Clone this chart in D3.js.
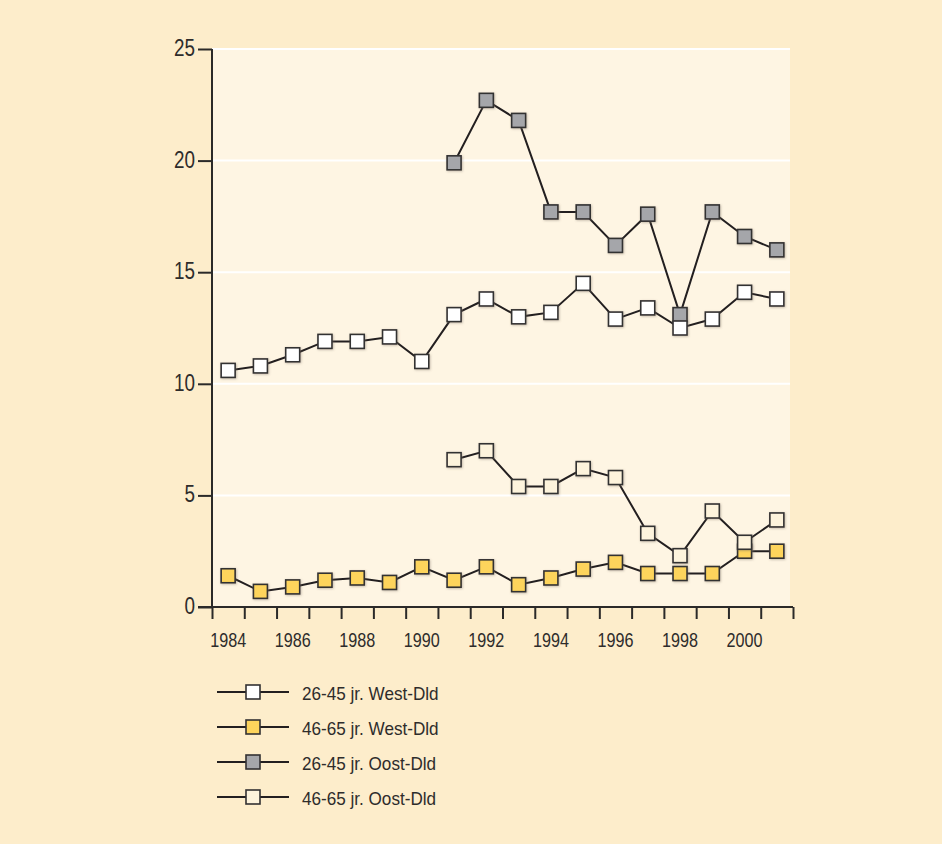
<!DOCTYPE html>
<html>
<head>
<meta charset="utf-8">
<script src="https://cdn.jsdelivr.net/npm/d3@7"></script>
<style>
  html, body { margin: 0; padding: 0; background: #fdedcb; }
  svg { display: block; }
  text { font-family: "Liberation Sans", Arial, sans-serif; fill: #2e2c2b; }
</style>
</head>
<body>
<svg id="chart" width="942" height="844"></svg>
<script>
const years = [1984,1985,1986,1987,1988,1989,1990,1991,1992,1993,1994,1995,1996,1997,1998,1999,2000,2001];
const yTicks = [0,5,10,15,20,25];
const xTickLabels = [1984,1986,1988,1990,1992,1994,1996,1998,2000];

const west2645 = [10.6,10.8,11.3,11.9,11.9,12.1,11.0,13.1,13.8,13.0,13.2,14.5,12.9,13.4,12.5,12.9,14.1,13.8];
const west4665 = [1.4,0.7,0.9,1.2,1.3,1.1,1.8,1.2,1.8,1.0,1.3,1.7,2.0,1.5,1.5,1.5,2.5,2.5];
const oost2645 = [null,null,null,null,null,null,null,19.9,22.7,21.8,17.7,17.7,16.2,17.6,13.1,17.7,16.6,16.0];
const oost4665 = [null,null,null,null,null,null,null,6.6,7.0,5.4,5.4,6.2,5.8,3.3,2.3,4.3,2.9,3.9];

const seriesNames = ["26-45 jr. West-Dld","46-65 jr. West-Dld","26-45 jr. Oost-Dld","46-65 jr. Oost-Dld"];
const seriesValues = [west2645, west4665, oost2645, oost4665];
const seriesFills = ["#ffffff","#fdd45c","#a5a6aa","#fdf3dc"];
const drawOrder = [2,1,3,0];

const svg = d3.select("#chart");
const mLeft = 212, mRight = 793, mTop = 49, mBottom = 607, plotRight = 790;

const x = d3.scaleBand().domain(years).range([mLeft, mRight]);
const xEdge = d3.scaleLinear().domain([1984, 2002]).range([mLeft, mRight]);
const y = d3.scaleLinear().domain([0, 25]).range([mBottom, mTop]);

// condense text horizontally (reference uses a condensed face)
function condense(sel, factor) {
  sel.each(function () {
    const len = this.getComputedTextLength();
    d3.select(this).attr("textLength", (len * factor).toFixed(2)).attr("lengthAdjust", "spacingAndGlyphs");
  });
}

const defs = svg.append("defs");
const f = defs.append("filter").attr("id","sh").attr("x","-30%").attr("y","-30%").attr("width","160%").attr("height","160%");
f.append("feDropShadow").attr("dx",0.8).attr("dy",0.8).attr("stdDeviation",0.8).attr("flood-color","#7a7060").attr("flood-opacity",0.45);

// plot background
svg.append("rect").attr("x", mLeft).attr("y", y(25) - 1).attr("width", plotRight - mLeft).attr("height", mBottom - y(25) + 1)
  .attr("fill", "#fef5e3");

// gridlines
svg.append("g").selectAll("line").data(yTicks.filter(d => d > 0)).join("line")
  .attr("x1", mLeft).attr("x2", plotRight).attr("y1", d => y(d)).attr("y2", d => y(d))
  .attr("stroke", "#ffffff").attr("stroke-width", 2);

// y axis
const yAxis = svg.append("g").attr("transform", `translate(${mLeft},0)`)
  .call(d3.axisLeft(y).tickValues(yTicks).tickSize(14).tickPadding(3).tickFormat(d3.format("d")));
yAxis.select(".domain").attr("stroke", "#2b2a29").attr("stroke-width", 2).attr("d", `M0,${y(25)}V${mBottom}`);
yAxis.selectAll(".tick line").attr("stroke", "#2b2a29").attr("stroke-width", 2);
yAxis.selectAll(".tick text").attr("font-size", 23).attr("dy", "0.28em")
  .style("font-family", '"Liberation Sans", Arial, sans-serif').attr("fill", "#2e2c2b");
condense(yAxis.selectAll(".tick text"), 0.82);

// x axis ticks at band edges
const xAxis = svg.append("g").attr("transform", `translate(0,${mBottom})`)
  .call(d3.axisBottom(xEdge).tickValues(d3.range(1984, 2003)).tickSize(12).tickFormat(""));
xAxis.select(".domain").attr("stroke", "#2b2a29").attr("stroke-width", 2).attr("d", `M${mLeft - 14},0H${mRight}`);
xAxis.selectAll(".tick line").attr("stroke", "#2b2a29").attr("stroke-width", 2);

// x labels at band centers
const xl = svg.append("g").selectAll("text").data(xTickLabels).join("text")
  .attr("x", d => x(d) + x.bandwidth() / 2).attr("y", 647)
  .attr("text-anchor", "middle").attr("font-size", 19.5).text(d => d);
condense(xl, 0.83);

// series
const line = d3.line().defined(d => d.v !== null).x(d => x(d.year) + x.bandwidth() / 2).y(d => y(d.v));
const ms = 14;
drawOrder.forEach(i => {
  const pts = years.map((yr, j) => ({ year: yr, v: seriesValues[i][j] }));
  const g = svg.append("g");
  g.append("path").datum(pts).attr("d", line).attr("fill", "none").attr("stroke", "#231f20").attr("stroke-width", 2);
  g.selectAll("rect").data(pts.filter(d => d.v !== null)).join("rect")
    .attr("x", d => x(d.year) + x.bandwidth() / 2 - ms / 2)
    .attr("y", d => y(d.v) - ms / 2)
    .attr("width", ms).attr("height", ms)
    .attr("fill", seriesFills[i]).attr("stroke", "#333132").attr("stroke-width", 1.6)
    .attr("filter", "url(#sh)");
});

// legend
const legendY = [692, 727, 762, 797];
const lg = svg.append("g");
seriesNames.forEach((name, i) => {
  const yy = legendY[i];
  lg.append("line").attr("x1", 217).attr("x2", 289).attr("y1", yy).attr("y2", yy)
    .attr("stroke", "#231f20").attr("stroke-width", 2);
  lg.append("rect").attr("x", 253 - 7).attr("y", yy - 7).attr("width", 14).attr("height", 14)
    .attr("fill", seriesFills[i]).attr("stroke", "#333132").attr("stroke-width", 1.6);
  const t = lg.append("text").attr("x", 302).attr("y", yy + 8).attr("font-size", 18.6).text(name);
  condense(t, 0.92);
});
</script>
</body>
</html>
